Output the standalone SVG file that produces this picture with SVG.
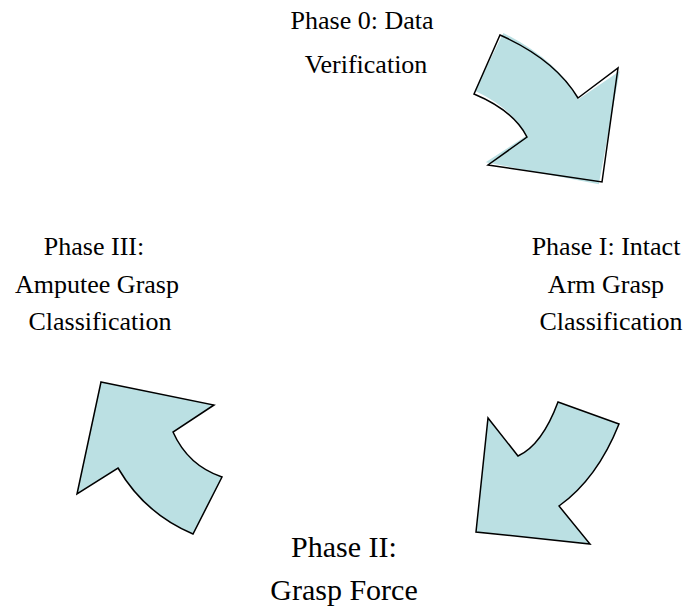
<svg xmlns="http://www.w3.org/2000/svg" width="685" height="607" viewBox="0 0 685 607">
  <style>
    .arrow { fill: #bbe0e3; stroke: #000; stroke-width: 1.5; stroke-linejoin: miter; }
    .fill-only { fill: #bbe0e3; stroke: none; }
    .outline { fill: none; stroke: #000; stroke-width: 1.5; }
    .label { font-family: "Liberation Serif", "Times New Roman", serif; font-size: 26px; fill: #000; text-anchor: middle; }
    .label-lg { font-size: 30px; }
  </style>

  <rect width="685" height="607" fill="#fff"/>

  <!-- cycle arrows -->
  <g id="connectors">
    <!-- top-right arrow: fill slightly rotated under its outline -->
    <g id="arrow-top">
      <path class="fill-only" transform="rotate(2.5 548 110)"
            d="M500,35 Q555,59.5 578,98 L618,68 L602,182 L488,165 L527,137 Q513.5,110.5 474,94 Z"/>
      <path class="outline"
            d="M500,35 Q555,59.5 578,98 L618,68 L602,182 L488,165 L527,137 Q513.5,110.5 474,94 Z"/>
    </g>
    <!-- bottom-right arrow -->
    <path id="arrow-right" class="arrow"
          d="M558,402 L619,424 Q597,479 559,506 L590,544 L476,532 L488,418 L518,456 Q542,445 558,402 Z"/>
    <!-- bottom-left arrow -->
    <path id="arrow-left" class="arrow"
          d="M101,382 L214,405 L173,432 Q188,465.5 222,477 L193,534 Q144.5,513.5 118,468 L77,494 Z"/>
  </g>

  <g id="phase-0">
    <text class="label" x="362" y="29">Phase 0: Data</text>
    <text class="label" x="366" y="73">Verification</text>
  </g>

  <g id="phase-1">
    <text class="label" x="606" y="255">Phase I: Intact</text>
    <text class="label" x="606" y="293">Arm Grasp</text>
    <text class="label" x="611" y="330">Classification</text>
  </g>

  <g id="phase-2">
    <text class="label label-lg" x="344" y="557">Phase II:</text>
    <text class="label label-lg" x="344" y="600">Grasp Force</text>
  </g>

  <g id="phase-3">
    <text class="label" x="94" y="255">Phase III:</text>
    <text class="label" x="97" y="293">Amputee Grasp</text>
    <text class="label" x="100" y="330">Classification</text>
  </g>
</svg>
